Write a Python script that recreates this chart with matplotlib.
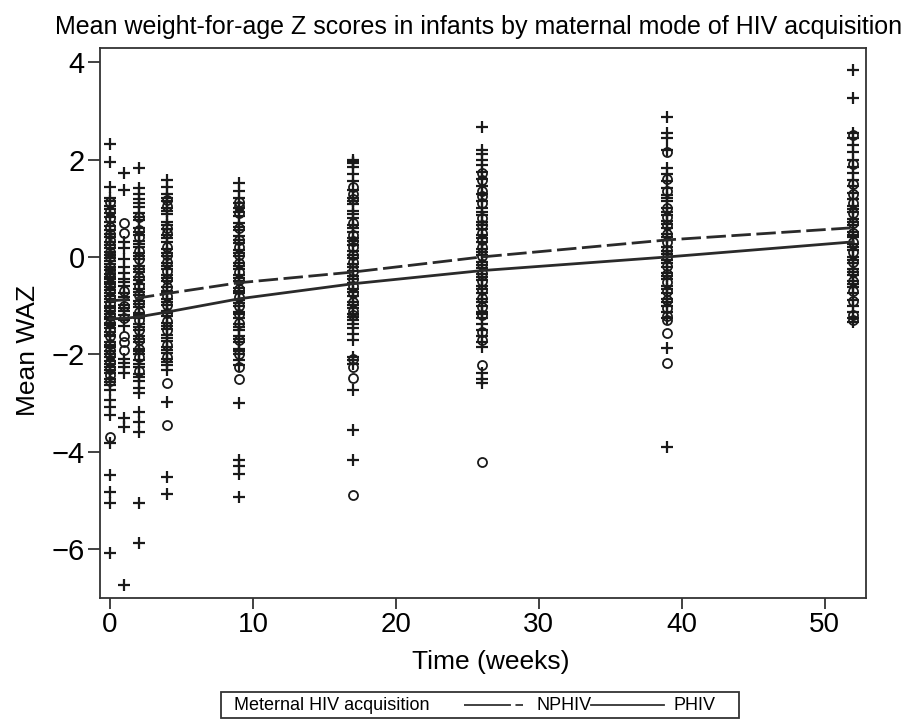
import numpy as np
import matplotlib
matplotlib.use("Agg")
import matplotlib.pyplot as plt
from matplotlib.lines import Line2D
from matplotlib.patches import Rectangle

INK = "#1a1a1a"
FONT = ["Liberation Sans", "DejaVu Sans"]

# visit weeks
weeks = [0, 1, 2, 4, 9, 17, 26, 39, 52]

# individual WAZ values, one list per visit ("+" markers)
plus_w0 = [2.32, 1.95, 1.44, 1.22, 1.15, 1.05, 0.98, 0.9, 0.81, 0.72, 0.64, 0.55, 0.47, 0.4,
           0.3, 0.24, 0.18, 0.11, 0.05, -0.02, -0.08, -0.15, -0.21, -0.27, -0.36, -0.41,
           -0.45, -0.51, -0.55, -0.62, -0.68, -0.73, -0.8, -0.86, -0.92, -1.0, -1.05, -1.1,
           -1.18, -1.23, -1.27, -1.35, -1.4, -1.46, -1.55, -1.6, -1.63, -1.74, -1.8, -1.85,
           -1.93, -1.99, -2.05, -2.14, -2.2, -2.25, -2.32, -2.38, -2.5, -2.56, -2.62, -2.74,
           -2.94, -3.08, -3.24, -3.82, -4.48, -4.82, -5.05, -6.08]
plus_w1 = [1.72, 1.37, 0.3, 0.18, -0.05, -0.2, -0.33, -0.45, -0.52, -0.6, -0.75, -0.82, -0.88,
           -0.98, -1.05, -1.1, -1.2, -1.3, -1.42, -2.1, -2.18, -2.25, -2.38, -3.3, -3.49, -6.73]
plus_w2 = [1.82, 1.41, 1.3, 1.18, 1.1, 1.02, 0.9, 0.83, 0.75, 0.6, 0.52, 0.45, 0.33, 0.26,
           0.2, 0.08, 0.01, -0.05, -0.18, -0.24, -0.3, -0.42, -0.48, -0.55, -0.66, -0.72,
           -0.78, -0.9, -0.96, -1.02, -1.15, -1.2, -1.26, -1.38, -1.44, -1.5, -1.62, -1.69,
           -1.75, -1.88, -1.94, -2.0, -2.12, -2.19, -2.26, -2.4, -2.47, -2.55, -2.68, -2.8,
           -3.18, -3.39, -3.6, -5.05, -5.88]
plus_w4 = [1.58, 1.44, 1.3, 1.22, 1.15, 1.0, 0.94, 0.88, 0.72, 0.65, 0.58, 0.45, 0.38, 0.3,
           0.16, 0.09, 0.02, -0.12, -0.18, -0.25, -0.38, -0.44, -0.5, -0.62, -0.69, -0.75,
           -0.86, -0.92, -0.98, -1.1, -1.16, -1.22, -1.35, -1.41, -1.47, -1.6, -1.66, -1.72,
           -1.85, -1.91, -1.98, -2.1, -2.16, -2.22, -2.32, -2.97, -4.52, -4.87]
plus_w9 = [1.52, 1.35, 1.2, 1.1, 1.0, 0.92, 0.85, 0.7, 0.62, 0.55, 0.42, 0.35, 0.28, 0.15,
           0.08, 0.02, -0.12, -0.18, -0.25, -0.38, -0.44, -0.5, -0.63, -0.69, -0.75, -0.88,
           -0.94, -1.0, -1.12, -1.18, -1.25, -1.38, -1.44, -1.5, -1.62, -1.68, -1.75, -1.88,
           -1.94, -2.0, -2.12, -2.22, -3.0, -4.17, -4.3, -4.45, -4.93]
plus_w17 = [2.0, 1.95, 1.92, 1.85, 1.7, 1.55, 1.38, 1.22, 1.15, 1.08, 0.95, 0.88, 0.8, 0.66,
            0.6, 0.52, 0.38, 0.32, 0.25, 0.12, 0.05, -0.02, -0.15, -0.21, -0.28, -0.4,
            -0.46, -0.53, -0.66, -0.72, -0.8, -0.92, -0.98, -1.05, -1.18, -1.24, -1.3, -1.38,
            -1.45, -1.58, -1.7, -2.05, -2.12, -2.2, -2.73, -3.55, -4.17]
plus_w26 = [2.67, 2.2, 2.12, 2.0, 1.88, 1.75, 1.6, 1.45, 1.3, 1.15, 1.0, 0.93, 0.86, 0.72,
            0.65, 0.58, 0.45, 0.38, 0.3, 0.17, 0.1, 0.04, -0.1, -0.16, -0.22, -0.35, -0.41,
            -0.48, -0.6, -0.66, -0.73, -0.86, -0.92, -1.0, -1.12, -1.18, -1.25, -1.38, -1.5,
            -1.62, -1.75, -1.85, -2.38, -2.5, -2.58]
plus_w39 = [2.87, 2.55, 2.45, 2.2, 1.82, 1.7, 1.55, 1.42, 1.28, 1.2, 1.14, 1.0, 0.93, 0.87,
            0.74, 0.67, 0.6, 0.47, 0.4, 0.34, 0.2, 0.13, 0.07, -0.06, -0.13, -0.2, -0.33,
            -0.39, -0.46, -0.6, -0.66, -0.73, -0.86, -0.93, -1.0, -1.12, -1.25, -1.87, -3.9]
plus_w52 = [3.84, 3.27, 2.55, 2.45, 2.3, 2.15, 2.0, 1.85, 1.72, 1.58, 1.45, 1.32, 1.18, 1.05,
            0.98, 0.92, 0.78, 0.72, 0.65, 0.52, 0.46, 0.4, 0.27, 0.2, 0.14, 0.0, -0.06,
            -0.12, -0.25, -0.31, -0.38, -0.5, -0.56, -0.62, -0.75, -0.88, -1.0, -1.12,
            -1.25, -1.33]

# "o" markers
circ_w0 = [1.12, 0.95, 0.8, 0.62, 0.48, 0.35, 0.25, 0.1, 0.0, -0.2, -0.3, -0.4, -0.55, -0.68,
           -0.82, -0.95, -1.08, -1.22, -1.35, -1.5, -1.62, -1.78, -1.9, -2.02, -2.15, -2.3,
           -2.42, -2.55, -3.7]
circ_w1 = [0.7, 0.5, -0.7, -1.0, -1.25, -1.62, -1.75, -1.9]
circ_w2 = [0.82, 0.55, 0.4, 0.12, -0.05, -0.25, -0.42, -0.6, -0.78, -0.95, -1.12, -1.3, -1.5,
           -1.7, -1.88, -2.05, -2.35]
circ_w4 = [1.17, 1.05, 0.6, 0.5, 0.2, 0.05, -0.1, -0.28, -0.45, -0.62, -0.8, -0.98, -1.15,
           -1.32, -1.5, -1.8, -2.05, -2.59, -3.45]
circ_w9 = [1.13, 1.05, 0.9, 0.6, 0.35, 0.2, 0.05, -0.12, -0.3, -0.48, -0.65, -0.82, -1.0,
           -1.18, -1.35, -1.7, -2.0, -2.25, -2.5]
circ_w17 = [1.44, 1.3, 1.18, 0.7, 0.45, 0.32, 0.2, 0.05, -0.1, -0.28, -0.45, -0.6, -0.75,
            -0.92, -1.1, -1.2, -2.1, -2.25, -2.48, -4.89]
circ_w26 = [1.72, 1.58, 1.35, 1.25, 1.1, 0.8, 0.65, 0.5, 0.35, 0.2, 0.02, -0.15, -0.32, -0.5,
            -0.68, -0.85, -1.02, -1.2, -1.55, -1.7, -2.22, -4.21]
circ_w39 = [2.16, 1.6, 1.35, 1.0, 0.82, 0.65, 0.48, 0.3, 0.15, 0.0, -0.18, -0.35, -0.52, -0.7,
            -0.88, -1.05, -1.22, -1.3, -1.56, -2.18]
circ_w52 = [2.5, 1.9, 1.5, 1.3, 1.1, 0.9, 0.7, 0.5, 0.3, 0.1, -0.1, -0.3, -0.5, -0.7, -0.9,
            -1.2, -1.3]

plus_vals = [plus_w0, plus_w1, plus_w2, plus_w4, plus_w9, plus_w17, plus_w26, plus_w39, plus_w52]
circ_vals = [circ_w0, circ_w1, circ_w2, circ_w4, circ_w9, circ_w17, circ_w26, circ_w39, circ_w52]

# fitted mean WAZ by group
nphiv_mean = [-0.9, -0.88, -0.84, -0.75, -0.53, -0.31, 0.0, 0.35, 0.6]
phiv_mean = [-1.27, -1.26, -1.23, -1.13, -0.86, -0.55, -0.28, 0.0, 0.31]

fig = plt.figure(figsize=(9.22, 7.19), dpi=100, facecolor="white")
ax = fig.add_axes([0.1085, 0.1683, 0.8308, 0.7650])

for wk, vals in zip(weeks, plus_vals):
    ax.plot([wk] * len(vals), vals, ls="none", marker="+", ms=9, mew=1.6, color=INK)
for wk, vals in zip(weeks, circ_vals):
    ax.plot([wk] * len(vals), vals, ls="none", marker="o", ms=6.5, mew=1.3, mfc="none", mec=INK)

ax.plot(weeks, nphiv_mean, color="#2a2a2a", lw=2.0, ls=(0, (7, 2)))
ax.plot(weeks, phiv_mean, color="#2a2a2a", lw=2.0, ls="-")

ax.set_xlim(-0.7, 52.9)
ax.set_ylim(-7.0, 4.29)
ax.set_xticks([0, 10, 20, 30, 40, 50])
ax.set_yticks([4, 2, 0, -2, -4, -6])
ax.set_yticklabels(["4", "2", "0", "\u22122", "\u22124", "\u22126"])

for s in ax.spines.values():
    s.set_linewidth(1.3)
    s.set_color("#333333")
ax.tick_params(axis="y", length=9, width=1.3, colors="#333333", labelsize=21, pad=2,
               labelcolor="black")
ax.tick_params(axis="x", length=8, width=1.3, colors="#333333", labelsize=20, pad=2,
               labelcolor="black")
for lab in ax.get_xticklabels() + ax.get_yticklabels():
    lab.set_family(FONT)

ax.set_ylabel("Mean WAZ", fontsize=19, family=FONT, va="center")
ax.yaxis.set_label_coords(-0.094, 0.45)
ax.set_xlabel("Time (weeks)", fontsize=19, family=FONT, va="center")
ax.xaxis.set_label_coords(0.51, -0.116)

fig.text(0.519, 0.962, "Mean weight-for-age Z scores in infants by maternal mode of HIV acquisition",
         ha="center", va="center", fontsize=18, family=FONT)

# legend box at the bottom
W, H = 922, 719
fig.add_artist(Rectangle((221 / W, 1 - 718 / H), (739 - 221) / W, (718 - 692) / H,
                         transform=fig.transFigure, fill=False, lw=1.3, ec="#333333"))
fig.text(234 / W, 1 - 705 / H, "Meternal HIV acquisition", ha="left", va="center",
         fontsize=13, family=FONT)
fig.add_artist(Line2D([464 / W, 523 / W], [1 - 705 / H, 1 - 705 / H], transform=fig.transFigure,
                      color="#333333", lw=1.3, ls=(0, (26, 2.5, 5, 50))))
fig.text(537 / W, 1 - 705 / H, "NPHIV", ha="left", va="center", fontsize=13, family=FONT)
fig.add_artist(Line2D([591 / W, 664 / W], [1 - 705 / H, 1 - 705 / H], transform=fig.transFigure,
                      color="#333333", lw=1.3))
fig.text(673 / W, 1 - 705 / H, "PHIV", ha="left", va="center", fontsize=13, family=FONT)

fig.savefig("out.png", dpi=100)
